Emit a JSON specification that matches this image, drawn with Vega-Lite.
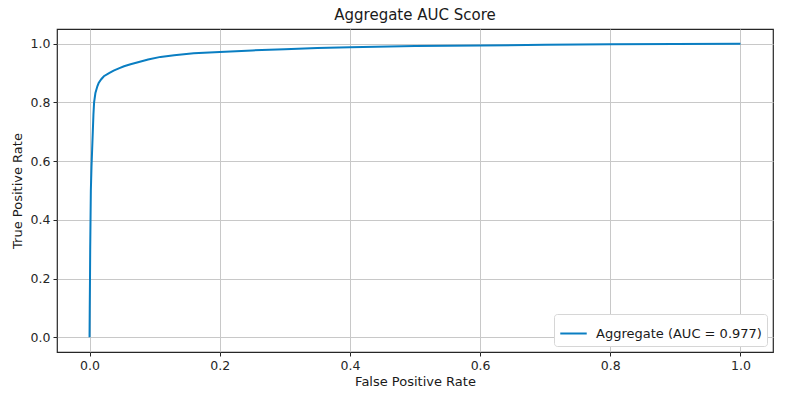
{
  "$schema": "https://vega.github.io/schema/vega-lite/v6.json",
  "width": 716,
  "height": 323,
  "autosize": "none",
  "padding": {"left": 57, "top": 29, "right": 14, "bottom": 48},
  "background": "white",
  "title": {"text": "Aggregate AUC Score", "font": "DejaVu Sans", "fontSize": 15, "fontWeight": "normal", "color": "#1a1a1a", "offset": 6},
  "config": {
    "view": {"stroke": "#262626", "strokeWidth": 1.2},
    "axis": {
      "labelFont": "DejaVu Sans", "labelFontSize": 12.5, "labelColor": "#262626",
      "titleFont": "DejaVu Sans", "titleFontSize": 13, "titleFontWeight": "normal", "titleColor": "#1a1a1a",
      "gridColor": "#c8c8c8", "gridWidth": 1, "tickColor": "#262626", "tickSize": 4, "domain": false
    }
  },
  "data": {"values": [
    {"fpr": 0, "tpr": 0, "series": "Aggregate (AUC = 0.977)"},
    {"fpr": 0.0003, "tpr": 0.1, "series": "Aggregate (AUC = 0.977)"},
    {"fpr": 0.0007, "tpr": 0.2, "series": "Aggregate (AUC = 0.977)"},
    {"fpr": 0.001, "tpr": 0.3, "series": "Aggregate (AUC = 0.977)"},
    {"fpr": 0.0015, "tpr": 0.4, "series": "Aggregate (AUC = 0.977)"},
    {"fpr": 0.002, "tpr": 0.5, "series": "Aggregate (AUC = 0.977)"},
    {"fpr": 0.003, "tpr": 0.58, "series": "Aggregate (AUC = 0.977)"},
    {"fpr": 0.004, "tpr": 0.64, "series": "Aggregate (AUC = 0.977)"},
    {"fpr": 0.005, "tpr": 0.7, "series": "Aggregate (AUC = 0.977)"},
    {"fpr": 0.006, "tpr": 0.76, "series": "Aggregate (AUC = 0.977)"},
    {"fpr": 0.007, "tpr": 0.8, "series": "Aggregate (AUC = 0.977)"},
    {"fpr": 0.009, "tpr": 0.832, "series": "Aggregate (AUC = 0.977)"},
    {"fpr": 0.012, "tpr": 0.855, "series": "Aggregate (AUC = 0.977)"},
    {"fpr": 0.014, "tpr": 0.866, "series": "Aggregate (AUC = 0.977)"},
    {"fpr": 0.018, "tpr": 0.879, "series": "Aggregate (AUC = 0.977)"},
    {"fpr": 0.022, "tpr": 0.889, "series": "Aggregate (AUC = 0.977)"},
    {"fpr": 0.03, "tpr": 0.9, "series": "Aggregate (AUC = 0.977)"},
    {"fpr": 0.037, "tpr": 0.908, "series": "Aggregate (AUC = 0.977)"},
    {"fpr": 0.045, "tpr": 0.916, "series": "Aggregate (AUC = 0.977)"},
    {"fpr": 0.053, "tpr": 0.923, "series": "Aggregate (AUC = 0.977)"},
    {"fpr": 0.063, "tpr": 0.93, "series": "Aggregate (AUC = 0.977)"},
    {"fpr": 0.073, "tpr": 0.936, "series": "Aggregate (AUC = 0.977)"},
    {"fpr": 0.09, "tpr": 0.946, "series": "Aggregate (AUC = 0.977)"},
    {"fpr": 0.109, "tpr": 0.955, "series": "Aggregate (AUC = 0.977)"},
    {"fpr": 0.13, "tpr": 0.961, "series": "Aggregate (AUC = 0.977)"},
    {"fpr": 0.16, "tpr": 0.967, "series": "Aggregate (AUC = 0.977)"},
    {"fpr": 0.2, "tpr": 0.972, "series": "Aggregate (AUC = 0.977)"},
    {"fpr": 0.25, "tpr": 0.977, "series": "Aggregate (AUC = 0.977)"},
    {"fpr": 0.3, "tpr": 0.981, "series": "Aggregate (AUC = 0.977)"},
    {"fpr": 0.35, "tpr": 0.985, "series": "Aggregate (AUC = 0.977)"},
    {"fpr": 0.4, "tpr": 0.988, "series": "Aggregate (AUC = 0.977)"},
    {"fpr": 0.5, "tpr": 0.992, "series": "Aggregate (AUC = 0.977)"},
    {"fpr": 0.6, "tpr": 0.994, "series": "Aggregate (AUC = 0.977)"},
    {"fpr": 0.7, "tpr": 0.996, "series": "Aggregate (AUC = 0.977)"},
    {"fpr": 0.8, "tpr": 0.998, "series": "Aggregate (AUC = 0.977)"},
    {"fpr": 0.9, "tpr": 0.999, "series": "Aggregate (AUC = 0.977)"},
    {"fpr": 1.0, "tpr": 1.0, "series": "Aggregate (AUC = 0.977)"}
  ]},
  "mark": {"type": "line", "strokeWidth": 2, "clip": true},
  "encoding": {
    "x": {"field": "fpr", "type": "quantitative", "title": "False Positive Rate",
      "scale": {"domain": [-0.05, 1.05], "nice": false, "zero": false},
      "axis": {"values": [0, 0.2, 0.4, 0.6, 0.8, 1.0], "format": ".1f", "labelPadding": 3, "titlePadding": 4, "labelFlush": false}},
    "y": {"field": "tpr", "type": "quantitative", "title": "True Positive Rate",
      "scale": {"domain": [-0.05, 1.05], "nice": false, "zero": false},
      "axis": {"values": [0, 0.2, 0.4, 0.6, 0.8, 1.0], "format": ".1f", "labelPadding": 3, "titlePadding": 6, "labelFlush": false}},
    "color": {"field": "series", "type": "nominal",
      "scale": {"range": ["#0a7ec2"]},
      "legend": {"title": null, "orient": "bottom-right", "offset": 6, "symbolType": "stroke", "symbolSize": 700, "symbolStrokeWidth": 2,
        "labelFont": "DejaVu Sans", "labelFontSize": 13, "labelColor": "#1a1a1a", "labelLimit": 0,
        "fillColor": "white", "strokeColor": "#d6d6d6", "cornerRadius": 3, "padding": 5, "labelOffset": 8}}
  }
}
